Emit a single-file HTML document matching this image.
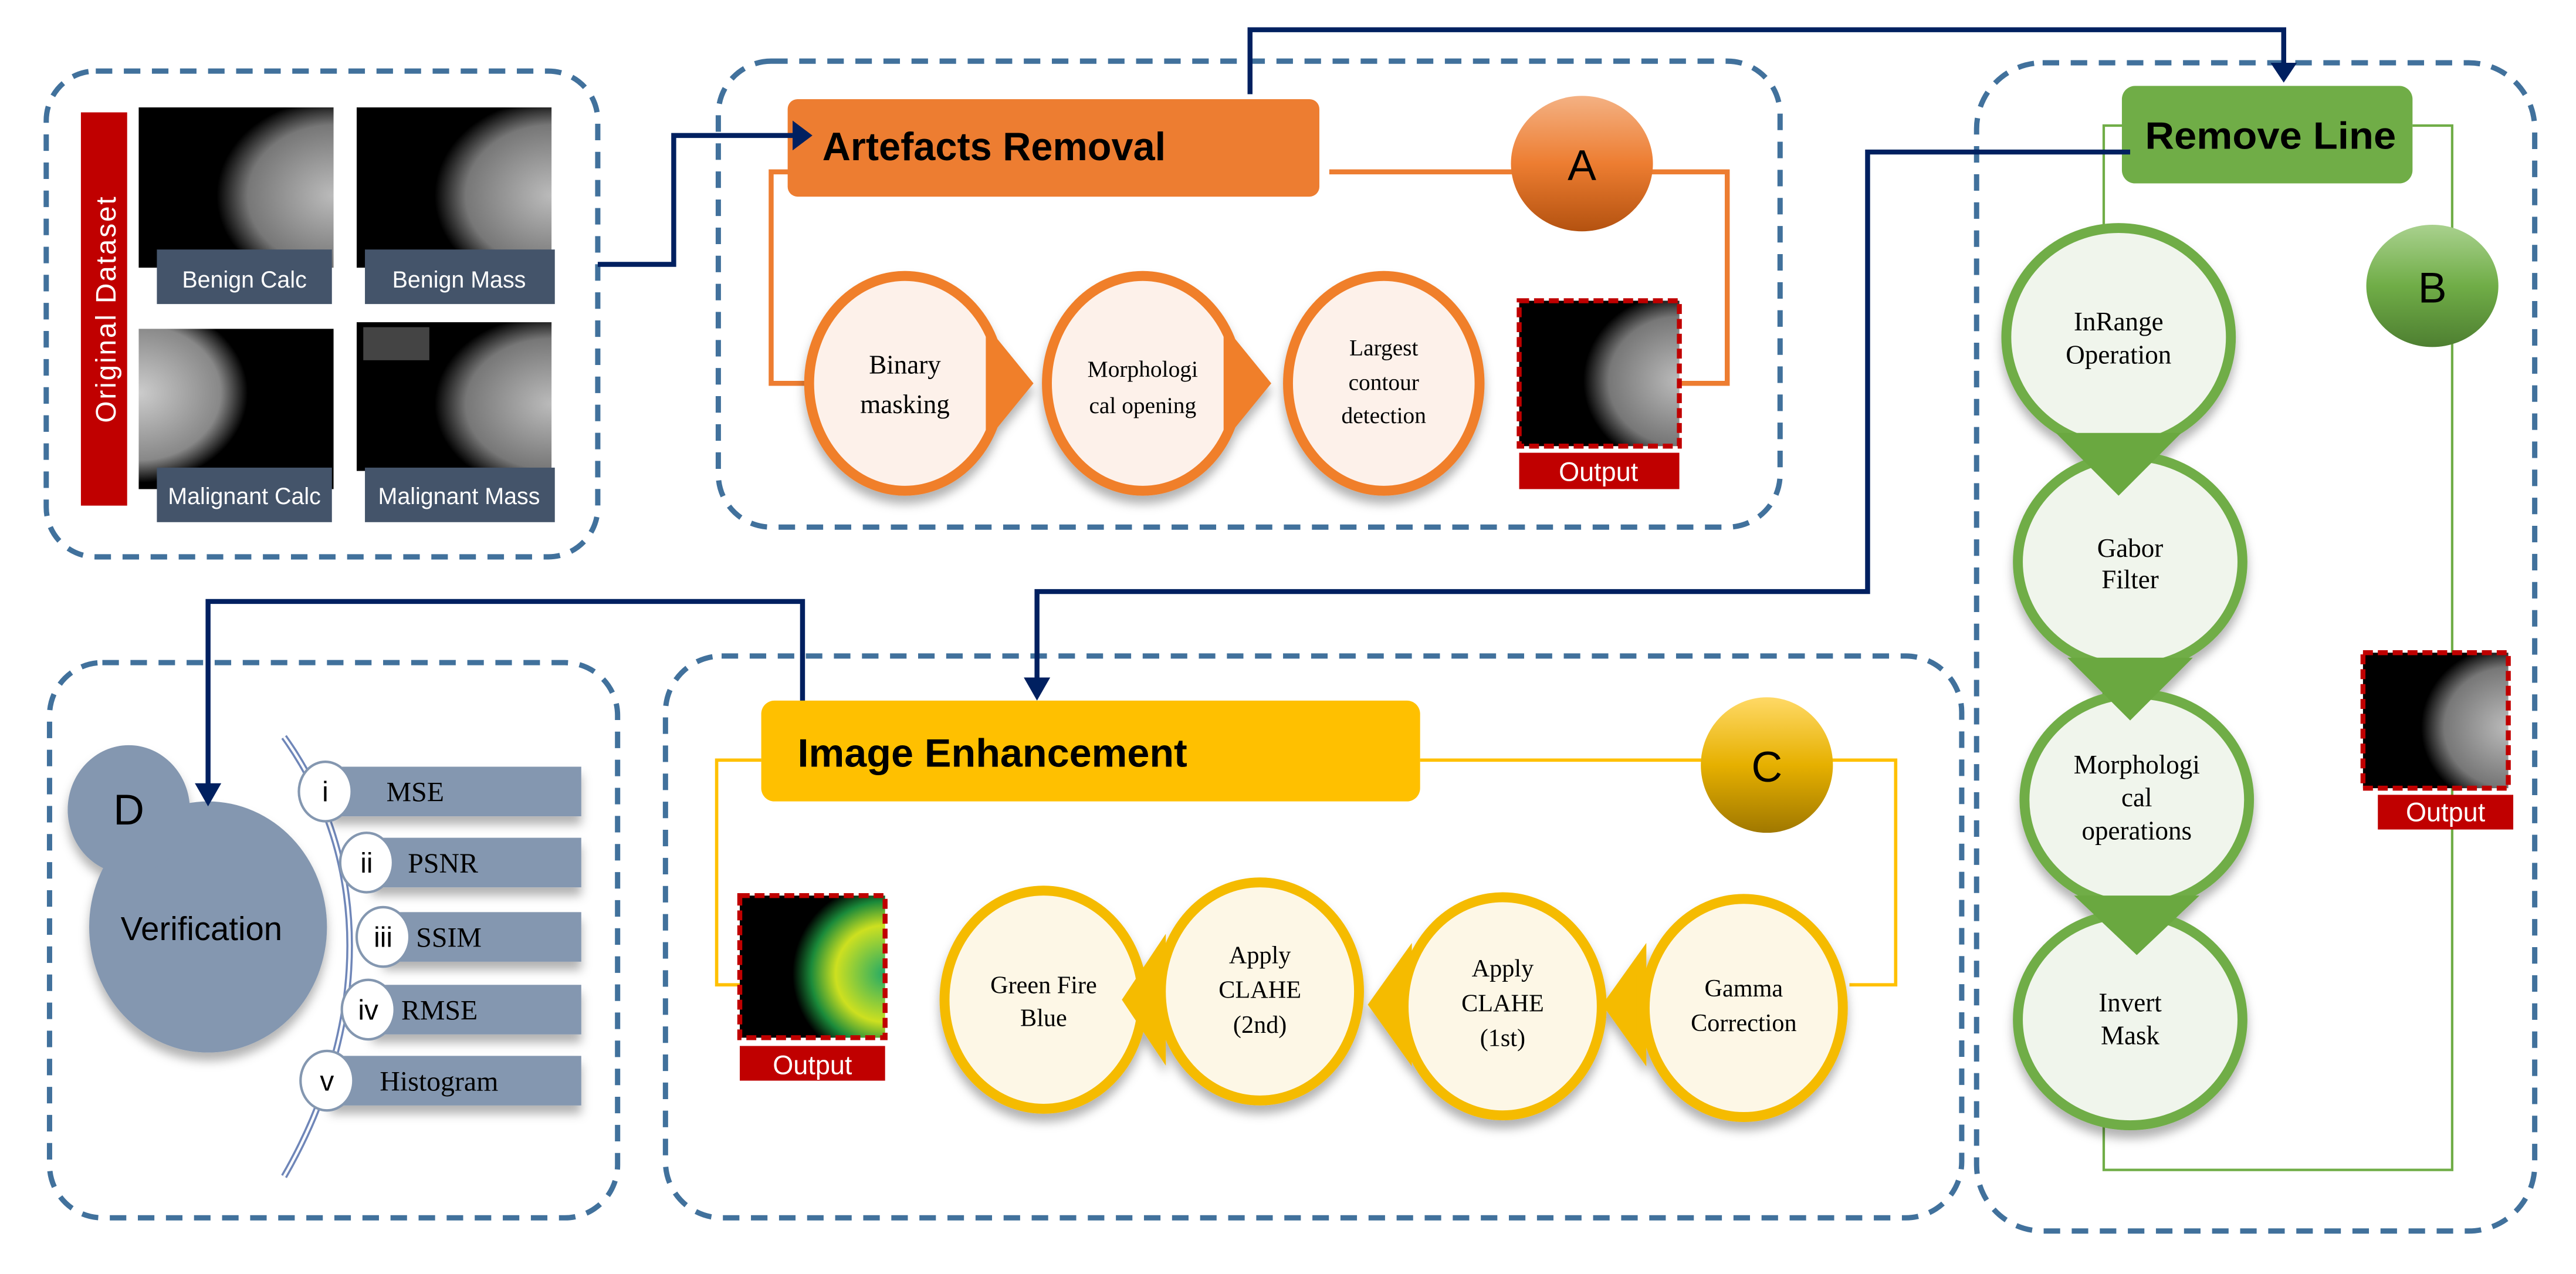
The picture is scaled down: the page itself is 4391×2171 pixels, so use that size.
<!DOCTYPE html>
<html><head><meta charset="utf-8"><style>html,body{margin:0;padding:0;background:#fff;}svg{display:block}</style></head>
<body>
<svg width="4391" height="2171" viewBox="0 0 1560 771" preserveAspectRatio="none" xmlns="http://www.w3.org/2000/svg">
<defs>
<radialGradient id="mam" cx="100%" cy="55%" r="80%"><stop offset="0" stop-color="#bbb"/><stop offset="0.55" stop-color="#777"/><stop offset="0.75" stop-color="#000"/></radialGradient>
<radialGradient id="mamL" cx="0%" cy="40%" r="70%"><stop offset="0" stop-color="#ccc"/><stop offset="0.6" stop-color="#888"/><stop offset="0.8" stop-color="#000"/></radialGradient>
<radialGradient id="mamG" cx="100%" cy="55%" r="85%"><stop offset="0" stop-color="#2a6"/><stop offset="0.4" stop-color="#cde020"/><stop offset="0.6" stop-color="#1a8a3a"/><stop offset="0.75" stop-color="#000"/></radialGradient>
<linearGradient id="gA" x1="0" y1="0" x2="0" y2="1"><stop offset="0" stop-color="#f4b183"/><stop offset="0.5" stop-color="#ed7d31"/><stop offset="1" stop-color="#b45210"/></linearGradient>
<linearGradient id="gB" x1="0" y1="0" x2="0" y2="1"><stop offset="0" stop-color="#a9d18e"/><stop offset="0.5" stop-color="#70ad47"/><stop offset="1" stop-color="#4e7f31"/></linearGradient>
<linearGradient id="gC" x1="0" y1="0" x2="0" y2="1"><stop offset="0" stop-color="#ffd966"/><stop offset="0.5" stop-color="#e6b000"/><stop offset="1" stop-color="#a07800"/></linearGradient>
<filter id="sh" x="-20%" y="-20%" width="140%" height="150%"><feDropShadow dx="0" dy="5" stdDeviation="3" flood-color="#000" flood-opacity="0.3"/></filter>
</defs>
<g fill="none" stroke="#41719c" stroke-width="3.2" stroke-dasharray="10 7">
<rect x="28" y="43" width="334" height="294" rx="30"/>
<rect x="435" y="37" width="643" height="282" rx="32"/>
<rect x="1197" y="38" width="338" height="707" rx="40"/>
<rect x="30" y="401" width="344" height="336" rx="32"/>
<rect x="403" y="397" width="785" height="340" rx="34"/>
</g>
<!-- Box 1 -->
<rect x="49" y="68" width="28" height="238" fill="#c00000"/>
<text transform="translate(70,187) rotate(-90)" text-anchor="middle" font-family="Liberation Sans, sans-serif" font-size="17" fill="#fff" letter-spacing="1">Original Dataset</text>
<rect x="84" y="65" width="118" height="97" fill="url(#mam)"/>
<rect x="216" y="65" width="118" height="97" fill="url(#mam)"/>
<rect x="84" y="199" width="118" height="97" fill="url(#mamL)"/>
<rect x="216" y="195" width="118" height="90" fill="url(#mam)"/><rect x="220" y="198" width="40" height="20" fill="#444"/>
<g fill="#44546a">
<rect x="95" y="151" width="106" height="33"/><rect x="221" y="151" width="115" height="33"/>
<rect x="95" y="283" width="106" height="33"/><rect x="221" y="283" width="115" height="33"/>
</g>
<g font-family="Liberation Sans, sans-serif" font-size="14" fill="#fff" text-anchor="middle">
<text x="148" y="174">Benign Calc</text><text x="278" y="174">Benign Mass</text>
<text x="148" y="305">Malignant Calc</text><text x="278" y="305">Malignant Mass</text>
</g>
<!-- Box A -->
<polyline points="805,104 1046,104 1046,232 1018,232" fill="none" stroke="#ed7d31" stroke-width="3"/>
<polyline points="478,104 467,104 467,232 490,232" fill="none" stroke="#ed7d31" stroke-width="3"/>
<rect x="477" y="60" width="322" height="59" rx="6" fill="#ed7d31"/>
<text x="498" y="97" font-family="Liberation Sans, sans-serif" font-weight="bold" font-size="24" fill="#000" textLength="208" lengthAdjust="spacingAndGlyphs">Artefacts Removal</text>
<ellipse cx="958" cy="99" rx="43" ry="41" fill="url(#gA)"/>
<text x="958" y="109" text-anchor="middle" font-family="Liberation Sans, sans-serif" font-size="26">A</text>
<g filter="url(#sh)" fill="#fdf1ea" stroke="#f07f2a" stroke-width="6">
<ellipse cx="548" cy="232" rx="58" ry="65"/>
<path d="M600,205 L622,232 L600,259z" fill="#f07f2a"/>
<ellipse cx="692" cy="232" rx="58" ry="65"/>
<path d="M744,205 L766,232 L744,259z" fill="#f07f2a"/>
<ellipse cx="838" cy="232" rx="58" ry="65"/>
</g>
<g font-family="Liberation Serif, serif" font-size="16" fill="#000" text-anchor="middle">
<text x="548" y="226">Binary</text><text x="548" y="250">masking</text>
<text x="692" y="228" font-size="14">Morphologi</text><text x="692" y="250" font-size="14">cal opening</text>
<text x="838" y="215" font-size="14">Largest</text><text x="838" y="236" font-size="14">contour</text><text x="838" y="256" font-size="14">detection</text>
</g>
<rect x="920" y="182" width="97" height="88" fill="url(#mam)" stroke="#c00000" stroke-width="3" stroke-dasharray="6 3"/>
<rect x="920" y="274" width="97" height="22" fill="#c00000"/>
<text x="968" y="291" text-anchor="middle" font-family="Liberation Sans, sans-serif" font-size="16" fill="#fff">Output</text>
<!-- Box B -->
<polyline points="1290,76 1274,76 1274,708 1485,708 1485,76 1461,76" fill="none" stroke="#70ad47" stroke-width="1.5"/>
<rect x="1285" y="52" width="176" height="59" rx="8" fill="#70ad47"/>
<text x="1299" y="90" font-family="Liberation Sans, sans-serif" font-weight="bold" font-size="23" fill="#000" textLength="152" lengthAdjust="spacingAndGlyphs">Remove Line</text>
<ellipse cx="1473" cy="173" rx="40" ry="37" fill="url(#gB)"/>
<text x="1473" y="183" text-anchor="middle" font-family="Liberation Sans, sans-serif" font-size="26">B</text>
<g filter="url(#sh)" fill="#f0f5ec" stroke="#70ad47" stroke-width="6">
<ellipse cx="1283" cy="204" rx="68" ry="66"/>
<ellipse cx="1290" cy="340" rx="68" ry="64"/>
<ellipse cx="1294" cy="484" rx="68" ry="64"/>
<ellipse cx="1290" cy="617" rx="68" ry="64"/>
<path d="M1245,262 L1283,300 L1321,262z" fill="#6aa83f" stroke="none"/>
<path d="M1252,398 L1290,436 L1328,398z" fill="#6aa83f" stroke="none"/>
<path d="M1256,542 L1294,578 L1332,542z" fill="#6aa83f" stroke="none"/>
</g>
<g font-family="Liberation Serif, serif" font-size="16" fill="#000" text-anchor="middle">
<text x="1283" y="200">InRange</text><text x="1283" y="220">Operation</text>
<text x="1290" y="337">Gabor</text><text x="1290" y="356">Filter</text>
<text x="1294" y="468">Morphologi</text><text x="1294" y="488">cal</text><text x="1294" y="508">operations</text>
<text x="1290" y="612">Invert</text><text x="1290" y="632">Mask</text>
</g>
<rect x="1431" y="395" width="88" height="82" fill="url(#mam)" stroke="#c00000" stroke-width="3" stroke-dasharray="6 3"/>
<rect x="1440" y="481" width="82" height="21" fill="#c00000"/>
<text x="1481" y="497" text-anchor="middle" font-family="Liberation Sans, sans-serif" font-size="16" fill="#fff">Output</text>
<!-- Box C -->
<polyline points="461,460 434,460 434,596 450,596" fill="none" stroke="#ffc000" stroke-width="2"/>
<polyline points="860,460 1148,460 1148,596 1120,596" fill="none" stroke="#ffc000" stroke-width="2"/>
<rect x="461" y="424" width="399" height="61" rx="8" fill="#ffc000"/>
<text x="483" y="464" font-family="Liberation Sans, sans-serif" font-weight="bold" font-size="24" fill="#000" textLength="236" lengthAdjust="spacingAndGlyphs">Image Enhancement</text>
<ellipse cx="1070" cy="463" rx="40" ry="41" fill="url(#gC)"/>
<text x="1070" y="473" text-anchor="middle" font-family="Liberation Sans, sans-serif" font-size="26">C</text>
<g filter="url(#sh)" fill="#fdf7e6" stroke="#f5bb00" stroke-width="6">
<ellipse cx="632" cy="605" rx="60" ry="66"/>
<path d="M703,575 L683,605 L703,635z" fill="#f5bb00"/>
<ellipse cx="763" cy="600" rx="60" ry="66"/>
<path d="M852,580 L832,608 L852,636z" fill="#f5bb00"/>
<ellipse cx="910" cy="609" rx="60" ry="66"/>
<path d="M994,580 L974,608 L994,636z" fill="#f5bb00"/>
<ellipse cx="1056" cy="610" rx="60" ry="66"/>
</g>
<g font-family="Liberation Serif, serif" font-size="15" fill="#000" text-anchor="middle">
<text x="632" y="601">Green Fire</text><text x="632" y="621">Blue</text>
<text x="763" y="583">Apply</text><text x="763" y="604">CLAHE</text><text x="763" y="625">(2nd)</text>
<text x="910" y="591">Apply</text><text x="910" y="612">CLAHE</text><text x="910" y="633">(1st)</text>
<text x="1056" y="603">Gamma</text><text x="1056" y="624">Correction</text>
</g>
<rect x="448" y="542" width="88" height="86" fill="url(#mamG)" stroke="#c00000" stroke-width="3" stroke-dasharray="6 3"/>
<rect x="448" y="633" width="88" height="21" fill="#c00000"/>
<text x="492" y="650" text-anchor="middle" font-family="Liberation Sans, sans-serif" font-size="16" fill="#fff">Output</text>
<!-- Box D -->
<path d="M172,446 C225,520 225,620 172,712" fill="none" stroke="#6f86b8" stroke-width="4"/>
<path d="M172,446 C225,520 225,620 172,712" fill="none" stroke="#fff" stroke-width="1.5"/>
<g filter="url(#sh)" fill="#8497b0">
<ellipse cx="126" cy="561" rx="72" ry="76"/>
<ellipse cx="78" cy="490" rx="37" ry="39"/>
<rect x="200" y="464" width="152" height="30"/>
<rect x="225" y="507" width="127" height="30"/>
<rect x="232" y="552" width="120" height="30"/>
<rect x="225" y="596" width="127" height="30"/>
<rect x="200" y="639" width="152" height="30"/>
</g>
<g fill="#fff" stroke="#8497b0" stroke-width="1.5">
<ellipse cx="197" cy="479" rx="16" ry="18"/><ellipse cx="222" cy="522" rx="16" ry="18"/>
<ellipse cx="232" cy="567" rx="16" ry="18"/><ellipse cx="223" cy="611" rx="16" ry="18"/>
<ellipse cx="198" cy="654" rx="16" ry="18"/>
</g>
<g font-family="Liberation Sans, sans-serif" font-size="17" fill="#000" text-anchor="middle">
<text x="197" y="485">i</text><text x="222" y="528">ii</text><text x="232" y="573">iii</text><text x="223" y="617">iv</text><text x="198" y="660">v</text>
<text x="78" y="499" font-size="26">D</text>
<text x="122" y="569" font-size="20">Verification</text>
</g>
<g font-family="Liberation Serif, serif" font-size="17" fill="#000">
<text x="234" y="485">MSE</text><text x="247" y="528">PSNR</text><text x="252" y="573">SSIM</text><text x="243" y="617">RMSE</text><text x="230" y="660">Histogram</text>
</g>
<!-- connectors on top -->
<g fill="none" stroke="#002060" stroke-width="3">
<polyline points="362,160 408,160 408,82 482,82"/>
<polyline points="757,57 757,18 1383,18 1383,40"/>
<polyline points="1290,92 1131,92 1131,358 628,358 628,412"/>
<polyline points="486,424 486,364 126,364 126,477"/>
</g>
<g fill="#002060">
<polygon points="480,73 492,82 480,91"/>
<polygon points="1375,38 1391,38 1383,50"/>
<polygon points="620,410 636,410 628,424"/>
<polygon points="118,474 134,474 126,488"/>
</g>
</svg>
</body></html>
